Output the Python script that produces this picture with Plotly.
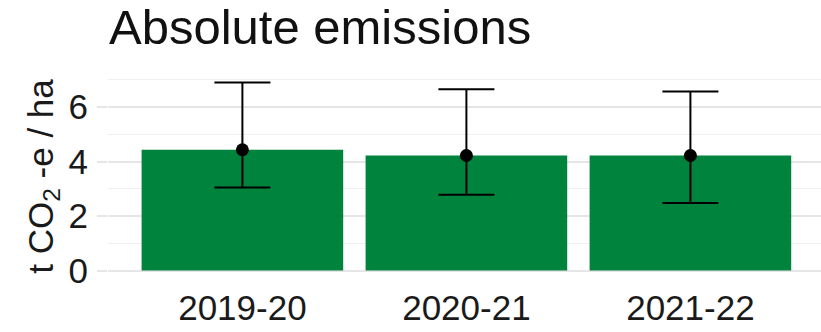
import plotly.graph_objects as go

# Emissions per hectare by financial year
years = ["2019-20", "2020-21", "2021-22"]
mean_emissions = [4.43, 4.22, 4.22]
lower_bound = [3.05, 2.78, 2.48]
upper_bound = [6.90, 6.65, 6.57]

err_plus = [u - m for u, m in zip(upper_bound, mean_emissions)]
err_minus = [m - l for m, l in zip(mean_emissions, lower_bound)]

FONT = "Liberation Sans, Arial, sans-serif"
GREEN = "#00833D"
GRID = "#E6E6E6"

fig = go.Figure()

fig.add_trace(go.Bar(
    x=years,
    y=mean_emissions,
    width=0.9,
    marker=dict(color=GREEN, line=dict(width=0)),
    hoverinfo="skip",
))

fig.add_trace(go.Scatter(
    x=years,
    y=mean_emissions,
    mode="markers",
    marker=dict(color="black", size=13),
    error_y=dict(
        type="data",
        symmetric=False,
        array=err_plus,
        arrayminus=err_minus,
        color="black",
        thickness=2,
        width=28,
    ),
))

fig.update_layout(
    width=821,
    height=332,
    margin=dict(l=108, r=0, t=73, b=52),
    paper_bgcolor="white",
    plot_bgcolor="white",
    showlegend=False,
    font=dict(family=FONT, color="#1a1a1a"),
    title=dict(
        text="Absolute emissions",
        font=dict(size=49, color="#111"),
        xref="container",
        yref="container",
        x=109 / 821,
        xanchor="left",
        y=1 - 27 / 332,
        yanchor="middle",
    ),
    xaxis=dict(
        type="category",
        range=[-0.6, 2.583],
        showgrid=False,
        zeroline=False,
        showline=False,
        ticks="",
        tickfont=dict(size=35, color="#1a1a1a"),
        ticklabelstandoff=4,
    ),
    yaxis=dict(
        range=[-0.345, 7.245],
        tickvals=[0, 2, 4, 6],
        showgrid=True,
        gridcolor=GRID,
        gridwidth=1.6,
        zeroline=False,
        showline=False,
        ticks="outside",
        ticklen=10,
        tickwidth=1.6,
        tickcolor=GRID,
        tickfont=dict(size=35, color="#1a1a1a"),
        ticklabelstandoff=2,
        minor=dict(tickvals=[1, 3, 5, 7], showgrid=True, gridcolor="#EFEFEF", gridwidth=1),
        title=dict(
            text="t CO<sub>2</sub> -e / ha",
            font=dict(size=35, color="#1a1a1a"),
            standoff=4,
        ),
    ),
)

fig.write_html("out.html")
